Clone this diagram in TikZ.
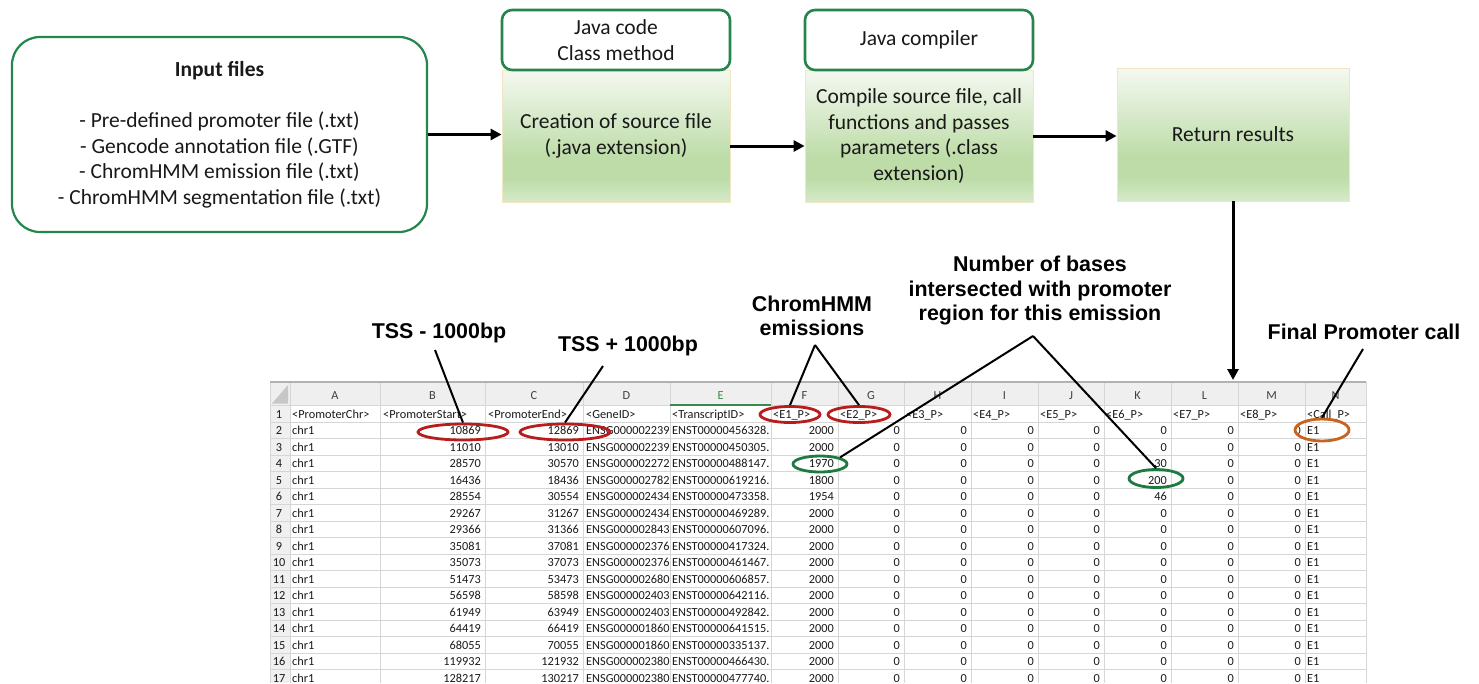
\documentclass[tikz,border=0pt]{standalone}
\usepackage{fontspec}
\setmainfont{Carlito}
\newfontfamily\labfont{Liberation Sans}
\usetikzlibrary{shapes.geometric,arrows.meta,calc}
\definecolor{boxgreen}{HTML}{24864C}
\definecolor{gtop}{HTML}{F5F9F1}
\definecolor{gmid}{HTML}{BDDCA8}
\definecolor{gbot}{HTML}{D6EAC8}
\definecolor{tanline}{HTML}{F0E6C4}
\definecolor{gridc}{HTML}{D6D6D6}
\definecolor{hdrc}{HTML}{EFEFEF}
\definecolor{ovred}{HTML}{B81C1C}
\definecolor{ovgreen}{HTML}{1E7A3E}
\definecolor{ovorange}{HTML}{C8621C}
\definecolor{selgreen}{HTML}{3A8A50}
\pgfdeclareverticalshading{gboxshade}{100bp}{color(0bp)=(gbot); color(25bp)=(gbot); color(34bp)=(gmid); color(42bp)=(gmid); color(75bp)=(gtop); color(100bp)=(gtop)}
\begin{document}
\begin{tikzpicture}[x=1pt,y=-1pt,
  flow/.style={font=\fontsize{21.5}{25.6}\selectfont, align=center, inner sep=0pt, text=black!90},
  inbox/.style={flow, draw=boxgreen, line width=2.2pt, rounded corners=28pt, fill=white, minimum width=415pt, minimum height=195pt},
  hdrbox/.style={flow, draw=boxgreen, line width=2.6pt, rounded corners=10pt, fill=white, minimum width=228pt, minimum height=60pt},
  gbox/.style={flow, shading=gboxshade, draw=tanline, line width=0.8pt, minimum width=228pt, minimum height=132pt},
  arr/.style={-{Triangle[length=11pt,width=11pt]}, line width=3pt},
  lead/.style={line width=2pt},
  lab/.style={font=\labfont\bfseries\fontsize{21.4}{24.5}\selectfont, align=center, inner sep=0pt},
  cell/.style={font=\fontsize{12.3}{14}\selectfont, inner sep=0pt, text height=8.4pt, text depth=0pt, text=black!90},
  cellL/.style={cell, anchor=west},
  cellR/.style={cell, anchor=east},
  colhdr/.style={cell, text=black!75},
  oval/.style={ellipse, draw, line width=2.8pt, inner sep=0pt}
]
\useasboundingbox (0,0) rectangle (1479,683);

% ---------------- flow chart ----------------
\node[inbox] (input) at (219.5,134.5) {\textbf{Input files}\\ \\- Pre-defined promoter file (.txt)\\- Gencode annotation file (.GTF)\\- ChromHMM emission file (.txt)\\- ChromHMM segmentation file (.txt)};

\node[gbox] (creation) at (616,136) {Creation of source file\\(.java extension)};
\node[hdrbox] (javacode) at (616,40) {Java code\\Class method};

\node[gbox] (compile) at (919,136) {Compile source file, call\\functions and passes\\parameters (.class\\extension)};
\node[hdrbox] (javacomp) at (919,40) {Java compiler};

\node[gbox, minimum width=232pt, minimum height=133pt] (ret) at (1233,134.5) {Return results};

\draw[arr] (input.east) -- (input.east -| creation.west);
\draw[arr] ([yshift=-10pt]creation.east) -- ([yshift=-10pt]compile.west);
\draw[arr] (compile.east) -- (compile.east -| ret.west);
\coordinate (sheettop) at (1233,380);
\draw[arr] (ret.south) -- (sheettop);

% ---------------- spreadsheet ----------------
\begin{scope}
\clip (268,380) rectangle (1368,683);
\fill[hdrc] (270,382) rectangle (1366,405.75);
\fill[black!6] (270,405.75) rectangle (290,683);
\fill[black!22] (288,385) -- (288,403.5) -- (272,403.5) -- cycle;
\foreach \k in {0,...,17}{
  \draw[gridc, line width=1pt] (270,405.75+\k*16.5) -- (1366,405.75+\k*16.5);
}
\foreach \xx in {270,290,380,485,583,670,771,838,904,971,1038,1104,1171,1238,1305,1366}{
  \draw[gridc, line width=1pt] (\xx,382) -- (\xx,683);
}
\draw[black!30, line width=1.2pt] (270,382) -- (1366,382);
\draw[selgreen, line width=2pt] (670,404.8) -- (771,404.8);

\foreach \xx/\lt in {335/A,432.5/B,534/C,626.5/D,804.5/F,871/G,937.5/H,1004.5/I,1071/J,1137.5/K,1204.5/L,1271.5/M,1335.5/N}{
  \node[colhdr] (col\lt) at (\xx,395) {\lt};
}
\node[colhdr, text=selgreen] (colE) at (720.5,395) {E};

\node[cell] (rn1) at (279,414) {1};
\foreach \xx/\txt [count=\i] in {292/<PromoterChr>,383/<PromoterStart>,488/<PromoterEnd>,586/<GeneID>,672/<TranscriptID>,773/<E1\_P>,840/<E2\_P>,906/<E3\_P>,973/<E4\_P>,1040/<E5\_P>,1106/<E6\_P>,1173/<E7\_P>,1240/<E8\_P>,1307/<Call\_P>}{
  \node[cellL] (h\i) at (\xx,414) {\txt};
}

\foreach \vR/\vS/\vE/\vG/\vT/\vF/\vK in {
 2/10869/12869/ENSG000002239/ENST00000456328./2000/0,
 3/11010/13010/ENSG000002239/ENST00000450305./2000/0,
 4/28570/30570/ENSG000002272/ENST00000488147./1970/30,
 5/16436/18436/ENSG000002782/ENST00000619216./1800/200,
 6/28554/30554/ENSG000002434/ENST00000473358./1954/46,
 7/29267/31267/ENSG000002434/ENST00000469289./2000/0,
 8/29366/31366/ENSG000002843/ENST00000607096./2000/0,
 9/35081/37081/ENSG000002376/ENST00000417324./2000/0,
 10/35073/37073/ENSG000002376/ENST00000461467./2000/0,
 11/51473/53473/ENSG000002680/ENST00000606857./2000/0,
 12/56598/58598/ENSG000002403/ENST00000642116./2000/0,
 13/61949/63949/ENSG000002403/ENST00000492842./2000/0,
 14/64419/66419/ENSG000001860/ENST00000641515./2000/0,
 15/68055/70055/ENSG000001860/ENST00000335137./2000/0,
 16/119932/121932/ENSG000002380/ENST00000466430./2000/0,
 17/128217/130217/ENSG000002380/ENST00000477740./2000/0}{
  \pgfmathsetmacro{\yy}{414+(\vR-1)*16.5}
  \node[cell] (rn\vR) at (279,\yy) {\vR};
  \node[cellL] (a\vR) at (292,\yy) {chr1};
  \node[cellR] (b\vR) at (481,\yy) {\vS};
  \node[cellR] (c\vR) at (579,\yy) {\vE};
  \node[cellL] (d\vR) at (586,\yy) {\vG};
  \node[cellL] (e\vR) at (672,\yy) {\vT};
  \node[cellR] (f\vR) at (834,\yy) {\vF};
  \foreach \xx/\cn in {900/g,967/h,1034/i,1100/j,1234/l,1301/m}{
    \node[cellR] (\cn\vR) at (\xx,\yy) {0};
  }
  \node[cellR] (k\vR) at (1167,\yy) {\vK};
  \node[cellL] (n\vR) at (1307,\yy) {E1};
}
\end{scope}

% ---------------- annotations ----------------
\node[oval, draw=ovred, minimum width=90pt, minimum height=16pt] (eB2) at (463,432) {};
\node[oval, draw=ovred, minimum width=90pt, minimum height=16pt] (eC2) at (565,432) {};
\node[oval, draw=ovred, minimum width=60pt, minimum height=16pt] (eE1) at (790,414.5) {};
\node[oval, draw=ovred, minimum width=62pt, minimum height=16pt] (eE2) at (859,414.5) {};
\node[oval, draw=ovgreen, minimum width=54pt, minimum height=16pt] (e1970) at (820,464) {};
\node[oval, draw=ovgreen, minimum width=54pt, minimum height=18pt] (e200) at (1156,478.5) {};
\node[oval, draw=ovorange, minimum width=54pt, minimum height=22pt] (eN2) at (1322,430) {};

\node[lab] (tss1) at (439,333) {TSS - 1000bp};
\node[lab] (tss2) at (628,346) {TSS + 1000bp};
\node[lab] (chrom) at (812,316) {ChromHMM\\emissions};
\node[lab] (nbases) at (1040,291) {Number of bases\\intersected with promoter\\region for this emission};
\node[lab] (final) at (1364,332) {Final Promoter call};

\coordinate (tss1a) at (435,350);
\coordinate (tss2a) at (603,366);
\coordinate (chroma) at (815,345);
\coordinate (nba) at (1033,336);
\coordinate (fina) at (1363,349);
\draw[lead] (tss1a) -- (eB2.north);
\draw[lead] (tss2a) -- (eC2.north);
\draw[lead] (chroma) -- (eE1.north);
\draw[lead] (chroma) -- (eE2.north);
\draw[lead] (nba) -- (e1970.north east);
\draw[lead] (nba) -- (e200.north);
\draw[lead] (fina) -- (eN2.north);
\end{tikzpicture}
\end{document}
